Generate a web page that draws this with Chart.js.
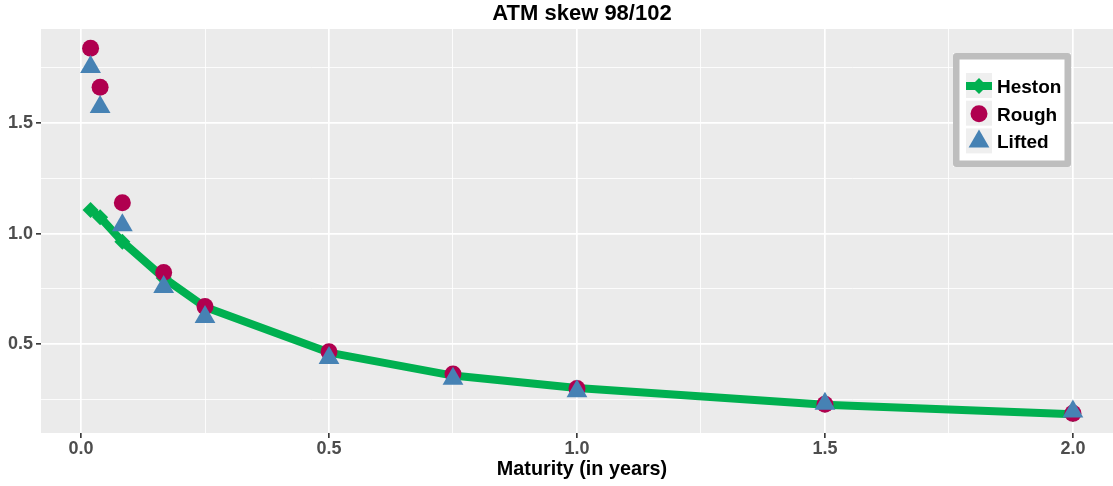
<!DOCTYPE html>
<html>
<head>
  <title>ATM skew 98/102</title>
  <script src="https://cdn.jsdelivr.net/npm/chart.js"></script>
  <style>
    body {
      margin: 0;
      background: #ffffff;
      overflow: hidden;
    }
    /* panel runs a little past the right edge of the page */
    .wrap {
      position: relative;
      width: 1135px;
      height: 486px;
    }
  </style>
</head>
<body>
  <div class="wrap">
    <canvas id="chart"></canvas>
  </div>

  <script>
    const titleText = "ATM skew 98/102";
    const xTitle = "Maturity (in years)";

    // maturities in years: 1w, 2w, 1m, 2m, 3m, 6m, 9m, 1y, 18m, 2y
    const maturities = [1/52, 2/52, 1/12, 2/12, 0.25, 0.5, 0.75, 1.0, 1.5, 2.0];
    const heston = [1.107, 1.074, 0.964, 0.800, 0.668, 0.462, 0.358, 0.302, 0.226, 0.183];
    const rough  = [1.839, 1.662, 1.140, 0.824, 0.670, 0.466, 0.365, 0.300, 0.228, 0.187];
    const lifted = [1.754, 1.573, 1.038, 0.759, 0.623, 0.438, 0.344, 0.287, 0.231, 0.196];

    const xTicks = [0, 0.25, 0.5, 0.75, 1.0, 1.25, 1.5, 1.75, 2.0];
    const yTicks = [0.25, 0.5, 0.75, 1.0, 1.25, 1.5, 1.75];

    const FONT = "'Liberation Sans', Arial, sans-serif";
    const isMajor = v => Math.abs(v * 2 - Math.round(v * 2)) < 1e-9;
    const pts = ys => maturities.map((m, i) => ({ x: m, y: ys[i] }));

    // grey panel like ggplot
    const panelBg = {
      id: "panelBg",
      beforeDraw(chart) {
        const a = chart.chartArea, c = chart.ctx;
        c.save();
        c.fillStyle = "#EBEBEB";
        c.fillRect(a.left, a.top, a.right - a.left, a.bottom - a.top);
        c.restore();
      }
    };

    // title centred over the panel
    const panelTitle = {
      id: "panelTitle",
      afterDraw(chart) {
        const a = chart.chartArea, c = chart.ctx;
        c.save();
        c.font = "bold 22px " + FONT;
        c.fillStyle = "#000000";
        c.textAlign = "center";
        c.textBaseline = "alphabetic";
        c.fillText(titleText, (a.left + a.right) / 2, 19.5);
        c.restore();
      }
    };

    // boxed legend inside the panel
    const boxLegend = {
      id: "boxLegend",
      afterDraw(chart) {
        const c = chart.ctx;
        const bx = 953, by = 53, bw = 118, bh = 114, bw2 = 6.5;
        c.save();
        c.fillStyle = "#ffffff";
        c.fillRect(bx, by, bw, bh);
        c.strokeStyle = "#BEBEBE";
        c.lineWidth = bw2;
        c.lineJoin = "round";
        c.strokeRect(bx + bw2 / 2, by + bw2 / 2, bw - bw2, bh - bw2);

        chart.data.datasets.forEach((ds, i) => {
          const kx = 966, ky = 73 + i * 27.7, ks = 26;
          const cx = kx + ks / 2, cy = ky + ks / 2;
          c.fillStyle = "#EFEFEF";
          c.fillRect(kx, ky, ks, ks - 1);
          if (ds.showLine) {
            c.strokeStyle = ds.borderColor;
            c.lineWidth = ds.borderWidth;
            c.beginPath();
            c.moveTo(kx, cy);
            c.lineTo(kx + ks, cy);
            c.stroke();
          }
          c.fillStyle = ds.pointBackgroundColor;
          Chart.helpers.drawPoint(c, {
            pointStyle: ds.pointStyle,
            radius: ds.pointRadius,
            rotation: 0,
            borderWidth: 0
          }, cx, cy);
          c.font = "bold 19px " + FONT;
          c.fillStyle = "#000000";
          c.textAlign = "left";
          c.textBaseline = "alphabetic";
          c.fillText(ds.label, 997, cy + 7);
        });
        c.restore();
      }
    };

    const gridOpts = {
      color: "#ffffff",
      lineWidth: ctx => (ctx.tick && isMajor(ctx.tick.value)) ? 1.7 : 0.85,
      tickColor: ctx => (ctx.tick && isMajor(ctx.tick.value)) ? "#333333" : "rgba(0,0,0,0)",
      tickWidth: 1.6,
      tickLength: 5,
      drawTicks: true
    };

    new Chart(document.getElementById("chart"), {
      type: "scatter",
      data: {
        datasets: [
          {
            label: "Heston",
            data: pts(heston),
            showLine: true,
            borderColor: "#00B050",
            borderWidth: 8,
            borderJoinStyle: "round",
            borderCapStyle: "butt",
            pointStyle: "rectRot",
            pointRadius: 8,
            pointBackgroundColor: "#00B050",
            pointBorderWidth: 0,
            order: 3
          },
          {
            label: "Rough",
            data: pts(rough),
            showLine: false,
            pointStyle: "circle",
            pointRadius: 8.5,
            pointBackgroundColor: "#B0004F",
            pointBorderWidth: 0,
            order: 2
          },
          {
            label: "Lifted",
            data: pts(lifted),
            showLine: false,
            pointStyle: "triangle",
            pointRadius: 12,
            pointBackgroundColor: "#4682B4",
            pointBorderWidth: 0,
            order: 1
          }
        ]
      },
      options: {
        responsive: true,
        maintainAspectRatio: false,
        animation: false,
        events: [],
        layout: { padding: { top: 29, left: 0, right: 0, bottom: 0 } },
        plugins: {
          legend: { display: false },
          tooltip: { enabled: false },
          title: { display: false }
        },
        scales: {
          x: {
            type: "linear",
            min: -0.0807,
            max: 2.101,
            border: { display: false },
            grid: gridOpts,
            afterBuildTicks: s => { s.ticks = xTicks.map(v => ({ value: v })); },
            afterFit: s => { s.height = 53; },
            ticks: {
              autoSkip: false,
              maxRotation: 0,
              padding: 0,
              color: "#4D4D4D",
              font: { family: FONT, size: 18, weight: "bold" },
              callback: v => isMajor(v) ? v.toFixed(1) : ""
            },
            title: {
              display: true,
              text: xTitle,
              color: "#000000",
              font: { family: FONT, size: 19.8, weight: "bold", lineHeight: 1.2 },
              padding: { top: 0, bottom: 4.6 }
            }
          },
          y: {
            type: "linear",
            min: 0.0982,
            max: 1.926,
            border: { display: false },
            grid: gridOpts,
            afterBuildTicks: s => { s.ticks = yTicks.map(v => ({ value: v })); },
            afterFit: s => { s.width = 41; },
            ticks: {
              autoSkip: false,
              padding: 3,
              color: "#4D4D4D",
              font: { family: FONT, size: 18, weight: "bold" },
              callback: v => isMajor(v) ? v.toFixed(1) : ""
            }
          }
        }
      },
      plugins: [panelBg, panelTitle, boxLegend]
    });
  </script>
</body>
</html>
